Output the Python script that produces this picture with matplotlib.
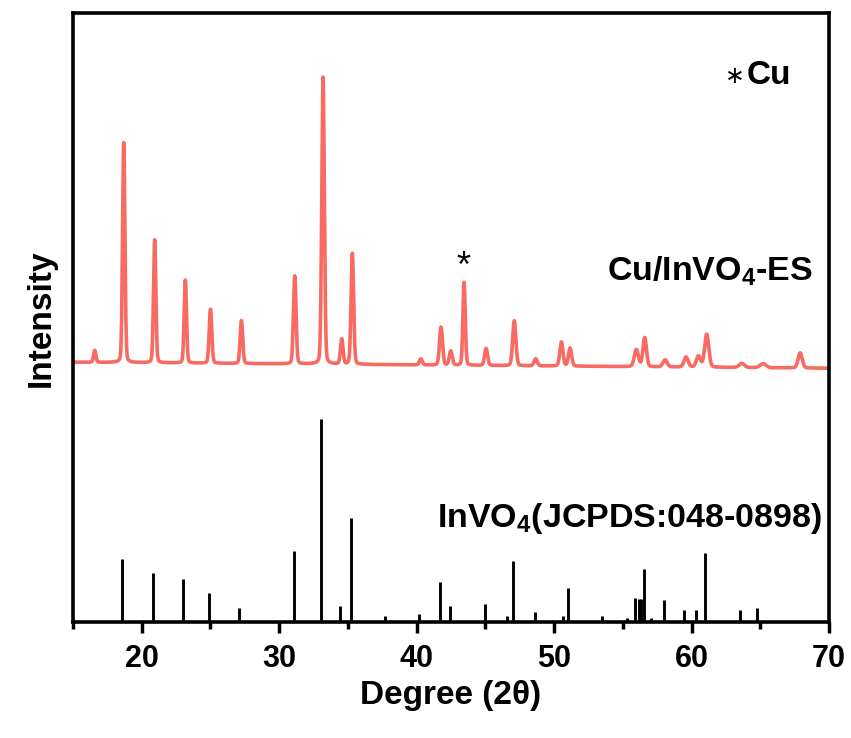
import numpy as np
import matplotlib
matplotlib.use("Agg")
import matplotlib.pyplot as plt
from matplotlib.ticker import MultipleLocator

plt.rcParams['font.family'] = ['Liberation Sans', 'DejaVu Sans']
plt.rcParams['font.weight'] = 'bold'
plt.rcParams['mathtext.fontset'] = 'custom'
plt.rcParams['mathtext.rm'] = 'Liberation Sans:bold'
plt.rcParams['mathtext.bf'] = 'Liberation Sans:bold'

# --- reference pattern InVO4 (JCPDS 048-0898): position (2theta), relative height
ref_pos = [18.59, 20.82, 23.03, 24.90, 27.10, 31.06, 33.07, 34.43, 35.23, 37.70,
           40.20, 41.70, 42.40, 45.00, 46.55, 47.03, 48.60, 50.67, 51.04, 53.50,
           55.28, 55.86, 56.18, 56.32, 56.56, 57.05, 58.00, 59.45, 60.30, 60.98,
           63.55, 64.78]
ref_int = [63, 49, 43, 29, 14, 71, 203, 16, 104, 6,
           8, 40, 16, 18, 6, 61, 10, 6, 34, 6,
           4, 24, 23, 23, 53, 4, 22, 12, 12, 69,
           12, 14]

# --- measured Cu/InVO4-ES pattern: peak positions, heights above baseline, widths (FWHM)
peak_pos = [16.58, 18.69, 20.94, 23.17, 25.00, 27.25, 31.13, 33.19, 34.55, 35.32,
            40.30, 41.77, 42.48, 43.45, 45.05, 47.10, 48.66, 50.53, 51.16, 55.98,
            56.59, 58.07, 59.60, 60.50, 61.10, 63.65, 65.20, 67.90]
peak_h = [12, 220, 123, 83, 54, 43, 88, 287, 25, 111,
          6, 38, 14, 83, 17, 45, 7, 24, 18, 17,
          29, 7, 10, 11, 33, 4, 4, 15]
peak_w = [0.2, 0.2, 0.2, 0.2, 0.22, 0.22, 0.22, 0.22, 0.22, 0.22,
          0.25, 0.25, 0.25, 0.2, 0.25, 0.27, 0.27, 0.27, 0.27, 0.35,
          0.3, 0.35, 0.35, 0.35, 0.35, 0.45, 0.5, 0.35]
base_left, base_right = 260, 254

two_theta = np.arange(15, 70.001, 0.01)
pattern = base_left + (base_right - base_left) * (two_theta - 15) / 55
for p, h, w in zip(peak_pos, peak_h, peak_w):
    d = (two_theta - p) / (w / 2)
    gauss = np.exp(-np.log(2) * d ** 2)
    lor = 1 / (1 + d ** 2)
    pattern = pattern + h * (0.85 * gauss + 0.15 * lor)

fig = plt.figure(figsize=(8.51, 7.38), dpi=100)
ax = fig.add_axes([0.0858, 0.157, 0.8884, 0.825])

ax.plot(two_theta, pattern, color='#F76B63', lw=2.6)
ax.vlines(ref_pos, 0, ref_int, color='black', lw=2.1)

ax.set_xlim(15, 70)
ax.set_ylim(0, 609)
ax.set_yticks([])
ax.xaxis.set_major_locator(MultipleLocator(10))
ax.xaxis.set_minor_locator(MultipleLocator(5))
ax.tick_params(axis='x', which='major', direction='out', length=8, width=2.5,
               labelsize=22, pad=8)
ax.tick_params(axis='x', which='minor', direction='out', length=5, width=2.5)
for s in ax.spines.values():
    s.set_linewidth(2.6)

ax.set_xlabel('Degree (2\u03b8)', fontsize=24, fontweight='bold', labelpad=4)
ax.set_ylabel('Intensity', fontsize=24, fontweight='bold', labelpad=12)

ax.text(63.15, 546, '\u2217', fontsize=17, ha='center', va='center',
        fontweight='normal', family='DejaVu Sans')
ax.text(64.0, 547, 'Cu', fontsize=24, ha='left', va='center', fontweight='bold')
ax.text(43.4, 355, '*', fontsize=26, ha='center', va='center', fontweight='normal')
ax.text(53.85, 351, r'Cu/InVO$_\mathbf{4}$-ES', fontsize=24.5, ha='left', va='center')
ax.text(41.48, 104, r'InVO$_\mathbf{4}$(JCPDS:048-0898)', fontsize=24.5, ha='left', va='center')

fig.savefig('out.png', dpi=100)
